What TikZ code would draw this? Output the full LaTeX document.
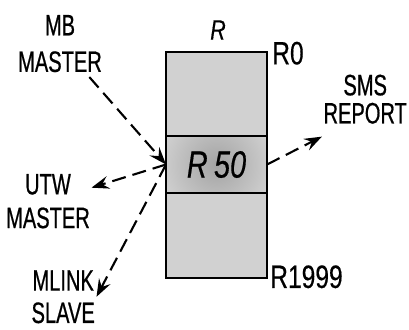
\documentclass[tikz,border=0pt]{standalone}
\usepackage{fontspec}
\setmainfont{Liberation Sans}[FakeStretch=0.68, FakeBold=0.6]
\newfontfamily\regfont{Liberation Sans}[FakeStretch=0.76, FakeBold=0.4]
\usetikzlibrary{positioning,arrows.meta}

\begin{document}
\begin{tikzpicture}[
  font=\fontsize{21}{26}\selectfont,
  cell/.style={draw, line width=1.3pt, outer sep=0pt, inner sep=0pt,
               minimum width=25.25mm, fill=black!18},
  lbl/.style={align=center, inner sep=1pt},
  reg/.style={font=\regfont\fontsize{23}{27}\selectfont, inner sep=0pt},
  arr/.style={-{Stealth[length=4.4mm, width=3.2mm, inset=1.6mm]},
              line width=1.5pt, dash pattern=on 10pt off 5pt},
]
\useasboundingbox (0,0) rectangle (10.225,-8.225);

% ---- register block ---------------------------------------------
\node[cell, minimum height=21mm, anchor=north west] (top) at (4.15,-1.3) {};
\node[cell, minimum height=14.25mm, below=0pt of top, fill=white,
      path picture={\shade[inner color=black!36, outer color=black!4]
        (path picture bounding box.center) circle (2.6cm);}] (mid)
      {\regfont\fontsize{27}{30}\selectfont\itshape R\,50};
\node[cell, minimum height=21.25mm, below=0pt of mid] (bot) {};

\node[lbl] (rname) at (5.45,-0.75) {\regfont\fontsize{20}{22}\selectfont\itshape R};
\node[reg, anchor=west] (rfirst) at (6.8,-1.33)  {R0};
\node[reg, anchor=west] (rlast)  at (6.75,-6.92) {R1999};

% ---- devices ----------------------------------------------------
\node[lbl] (mbm)   at (1.5,-1.09)  {MB\\MASTER};
\node[lbl] (sms)   at (9.13,-2.48) {SMS\\[-6pt]REPORT};
\node[lbl] (utw)   at (1.2,-5.03)  {UTW\\[-2pt]MASTER};
\node[lbl] (mlink) at (1.58,-7.42) {MLINK\\[-3pt]SLAVE};

% ---- transfers --------------------------------------------------
\draw[arr, shorten <=3pt] (mbm) -- (mid.west);
\draw[arr] (mid.west) -- (utw);
\draw[arr] (mid.west) -- (mlink.east);
\draw[arr] (mid.east) -- ([yshift=-8pt]sms.south west);

\end{tikzpicture}
\end{document}
